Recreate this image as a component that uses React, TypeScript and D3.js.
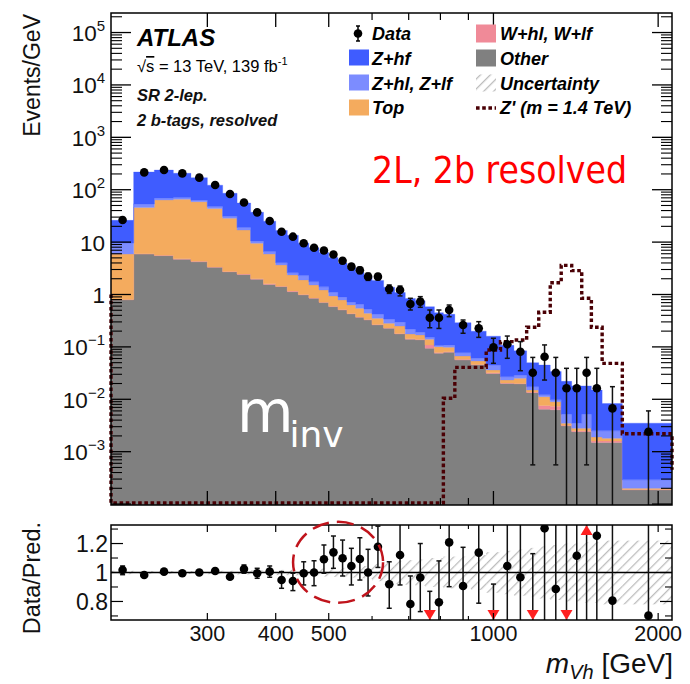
import React from "react";
import * as d3 from "d3";

// ---------- data ----------
const edges = [200, 220, 240, 260, 280, 300, 320, 340, 360, 380, 400, 420, 440, 460, 480, 500, 520, 540, 560, 580, 600,
  630, 660, 690, 720, 750, 780, 810, 850, 910, 970, 1030, 1090, 1150, 1210, 1270, 1330, 1390, 1450, 1510, 1580, 1720, 2120];

const other = [0.79, 5.9, 5.5, 4.7, 4.2, 3.3, 2.7, 2.4, 1.95, 1.56, 1.41, 1.13, 0.98, 0.846, 0.70, 0.585, 0.506, 0.425, 0.367, 0.326,
  0.262, 0.226, 0.176, 0.14, 0.136, 0.094, 0.0755, 0.079, 0.056, 0.045, 0.031, 0.020, 0.0196, 0.0134, 0.00645, 0.0063, 0.0031, 0.0024, 0.0024, 0.0015,
  0.0015, 0.000186];
const wjets = [0.01, 0.1, 0.1, 0.1, 0.1, 0.05, 0.05, 0.05, 0.05, 0.04, 0.03, 0.03, 0.02, 0.014, 0.012, 0.01, 0.009, 0.008, 0.007, 0.006,
  0.005, 0.004, 0.004, 0.003, 0.003, 0.015, 0.0025, 0.002, 0.002, 0.001, 0.001, 0.0005, 0.0004, 0.0003, 0.00115, 0.0011, 0.0001, 0.0001, 0.0001, 0.0001,
  0.0001, 0.000004];
const topq = [5.1, 40, 58, 61.2, 54.7, 40.65, 25.75, 14.55, 7.5, 4.3, 2.22, 1.2, 0.9, 0.66, 0.508, 0.341, 0.27, 0.197, 0.171, 0.106,
  0.084, 0.052, 0.07, 0.033, 0.03, 0.031, 0.023, 0.017, 0.0089, 0.008, 0.0043, 0.0029, 0.0052, 0.0013, 0.0036, 0.0016, 0.0003, 0.0003, 0.0003, 0.0003,
  0.0002, 0.00001];
const zhl = [3.7, 7.5, 5.4, 5, 4, 4, 2.5, 2, 1.0, 0.7, 0.39, 0.24, 0.4, 0.23, 0.18, 0.164, 0.115, 0.09, 0.105, 0.092,
  0.069, 0.058, 0.05, 0.044, 0.021, 0.012, 0.005, 0.011, 0.0105, 0.0066, 0.0087, 0.0036, 0.0038, 0.0024, 0.001, 0.0008, 0.0017, 0.0007, 0.0024, 0.0006,
  0.0007, 0.00009];
const zhf = [16.4, 164.5, 168, 135, 107, 74, 54.5, 36.7, 26.7, 18.5, 12.65, 10.9, 7.25, 6.05, 4.9, 4.0, 3.1, 2.53, 2.0, 1.66,
  1.44, 1.04, 0.79, 0.62, 0.57, 0.433, 0.344, 0.311, 0.2126, 0.139, 0.115, 0.08, 0.055, 0.0326, 0.0328, 0.0242, 0.0168, 0.0145, 0.0128, 0.0125,
  0.0058, 0.00321];

const dataVals = [26.4, 214, 238, 205, 170, 123, 83, 57, 37, 25.3, 15.8, 12.7, 9.5, 7.8, 6.9, 5.8, 4.4, 3.4, 2.9, 2.19,
  2.19, 1.27, 1.22, 0.66, 0.73, 0.36, 0.36, 0.506, 0.262, 0.226, 0.098, 0.112, 0.081, 0.032, 0.065, 0.032, 0.0162, 0.0162, 0.032, 0.0162,
  0.0067, 0.0024];
const dataHi = [27.6, 217, 241, 208, 173, 125.5, 85, 58.6, 38.3, 26.4, 16.7, 13.5, 10.2, 8.5, 7.6, 6.4, 4.9, 3.85, 3.33, 2.55,
  2.5, 1.52, 1.45, 0.846, 0.91, 0.506, 0.506, 0.63, 0.326, 0.303, 0.146, 0.161, 0.126, 0.063, 0.109, 0.063, 0.039, 0.039, 0.063, 0.039,
  0.0174, 0.006];
const dataLo = [25.2, 211, 235, 202, 167, 120.5, 81, 55.4, 35.7, 24.2, 14.9, 11.9, 8.8, 7.1, 6.2, 5.2, 3.9, 2.95, 2.5, 1.86,
  1.9, 1.05, 0.94, 0.506, 0.57, 0.232, 0.225, 0.377, 0.182, 0.152, 0.0486, 0.0605, 0.0351, 0.00056, 0.0233, 0.00056, 0, 0, 0.00056, 0,
  0, 0];

// Z' (m = 1.4 TeV) signal, events/GeV (0 = below the axis)
const signal = [0, 0, 0, 0, 0, 0, 0, 0, 0, 0, 0, 0, 0, 0, 0, 0, 0, 0, 0, 0, 0, 0, 0, 0, 0, 0, 0,
  0.0105, 0.0407, 0.0407, 0.0873, 0.126, 0.135, 0.237, 0.457, 1.68, 3.6, 2.85, 0.846, 0.237, 0.0484, 0.0022];
const signalStartLevel = 1;
const signalEndLevel = 0.00045;

// ratio panel
const ratio = [1.017, 0.983, 1.006, 0.995, 1.0, 1.01, 0.971, 1.024, 0.995, 1.006, 0.948, 0.941, 0.995, 1.0, 1.091, 1.139, 1.098, 1.045, 1.093, 1.0,
  1.178, 0.919, 1.121, 0.783, 0.965, 0.55, 0.794, 1.208, 0.907, 1.137, 0.55, 1.045, 0.967, 0.55, 1.305, 0.886, 0.55, 1.116, 1.5, 1.254,
  0.806, 0.702];
const ratioHi = [1.045, 0.995, 1.015, 1.005, 1.012, 1.022, 0.984, 1.052, 1.029, 1.045, 1.006, 0.995, 1.074, 1.081, 1.19, 1.252, 1.224, 1.167, 1.24, 1.16,
  1.32, 1.074, 1.4, 0.976, 1.2, 0.87, 1.08, 1.4, 1.174, 1.4, 0.92, 1.4, 1.4, 1.13, 1.4, 1.4, 1.4, 1.4, 1.5, 1.4,
  1.4, 1.4];
const ratioLo = [0.985, 0.971, 0.997, 0.985, 0.988, 0.998, 0.958, 0.995, 0.96, 0.967, 0.891, 0.875, 0.914, 0.909, 0.995, 1.029, 0.976, 0.914, 0.948, 0.838,
  1.035, 0.753, 0.914, 0.6, 0.73, 0.55, 0.6, 0.902, 0.6, 0.788, 0.55, 0.6, 0.6, 0.55, 0.6, 0.6, 0.55, 0.6, 0.6, 0.6,
  0.6, 0.6];
const uncert = [0.012, 0.01, 0.01, 0.01, 0.01, 0.012, 0.012, 0.014, 0.015, 0.016, 0.018, 0.02, 0.022, 0.025, 0.028, 0.03, 0.032, 0.035, 0.04, 0.045,
  0.06, 0.07, 0.08, 0.085, 0.09, 0.1, 0.1, 0.11, 0.11, 0.12, 0.14, 0.15, 0.16, 0.17, 0.18, 0.19, 0.2, 0.2, 0.21, 0.21,
  0.22, 0.22];

const xMajorTicks = [300, 400, 500, 1000, 2000];
const xMinorTicks = [600, 700, 800, 900];
const yDecades = [-3, -2, -1, 0, 1, 2, 3, 4, 5];
const ratioMajorTicks = [0.8, 1.0, 1.2];
const ratioMinorTicks = [0.7, 0.9, 1.1, 1.3];

const keys = ["other", "wjets", "top", "zhl", "zhf"];
const colors: Record<string, string> = {
  other: "#808080",
  wjets: "#F08A98",
  top: "#F4AB5E",
  zhl: "#7C8CFF",
  zhf: "#3F5CFF",
};

const FONT = '"Liberation Sans", Arial, Helvetica, sans-serif';

export default function App() {
  const W = 690, H = 684;
  const L = 111, R = 672, T = 13, B = 505, RT = 525, RB = 620;
  const yMin = 9.6e-5;
  const x = d3.scaleLog().domain([200, 2120]).range([L, R]);
  const y = d3.scaleLog().domain([yMin, 2.36e5]).range([B, T]);
  const yr = d3.scaleLinear().domain([0.672, 1.328]).range([RB, RT]);
  const nb = edges.length - 1;
  const centers = d3.range(nb).map((i) => (edges[i] + edges[i + 1]) / 2);

  const rows = d3.range(nb).map((i) => ({ other: other[i], wjets: wjets[i], top: topq[i], zhl: zhl[i], zhf: zhf[i] }));
  const series = d3.stack<any>().keys(keys)(rows as any);
  const clampY = (v: number) => y(Math.max(v, yMin));
  const area = d3
    .area<{ e: number; y0: number; y1: number }>()
    .x((d) => x(d.e))
    .y0((d) => clampY(d.y0))
    .y1((d) => clampY(d.y1));

  const layerPaths = series.map((s) => {
    const pts: { e: number; y0: number; y1: number }[] = [];
    for (let i = 0; i < nb; i++) {
      pts.push({ e: edges[i], y0: s[i][0], y1: s[i][1] });
      pts.push({ e: edges[i + 1], y0: s[i][0], y1: s[i][1] });
    }
    return { key: s.key, d: area(pts) as string };
  });

  // signal
  const floorVal = 1.05e-4;
  const sigPts: [number, number][] = [[x(edges[0]), y(signalStartLevel)]];
  for (let i = 0; i < nb; i++) {
    const v = Math.max(signal[i], floorVal);
    sigPts.push([x(edges[i]), y(v)]);
    sigPts.push([x(edges[i + 1]), y(v)]);
  }
  sigPts.push([x(edges[nb]), y(signalEndLevel)]);
  const sigPath = d3.line()(sigPts) as string;

  // y minor ticks
  const yMinor: number[] = [];
  for (let n = -5; n <= 5; n++) for (let k = 2; k <= 9; k++) {
    const v = k * Math.pow(10, n);
    if (v > yMin && v < 2.36e5) yMinor.push(v);
  }

  const supLabel = (n: number) => (n === 0 ? "1" : n === 1 ? "10" : null);

  const capW = 2.5;

  return (
    <svg width={W} height={H} style={{ position: "fixed", left: 0, top: 0, background: "#fff" }} fontFamily={FONT}>
      <defs>
        <clipPath id="mainClip">
          <rect x={L} y={T} width={R - L} height={B - T} />
        </clipPath>
        <clipPath id="sigClip">
          <rect x={L - 3} y={T} width={R - L + 6} height={B - T} />
        </clipPath>
        <clipPath id="ratioClip">
          <rect x={L} y={RT} width={R - L} height={RB - RT} />
        </clipPath>
        <pattern id="hatch" width="7" height="7" patternUnits="userSpaceOnUse" patternTransform="rotate(45)">
          <line x1="0" y1="0" x2="0" y2="7" stroke="#bdbdbd" strokeWidth="2.6" />
        </pattern>
      </defs>
      <rect x={0} y={0} width={W} height={H} fill="#fff" />

      {/* ---------- main panel ---------- */}
      <g clipPath="url(#mainClip)">
        {layerPaths.map((p) => (
          <path key={p.key} d={p.d} fill={colors[p.key]} stroke={colors[p.key]} strokeWidth={0.3} />
        ))}
      </g>
      <g clipPath="url(#sigClip)">
        <path d={sigPath} fill="none" stroke="#4a0005" strokeWidth={3.4} strokeDasharray="3.6 2.6" />
      </g>
      <g clipPath="url(#mainClip)">
        {centers.map((c, i) => {
          const cx = x(c);
          const yh = y(dataHi[i]);
          const lowIn = dataLo[i] > yMin;
          const yl = lowIn ? y(dataLo[i]) : B + 5;
          return (
            <g key={i}>
              <line x1={cx} x2={cx} y1={yh} y2={yl} stroke="#111" strokeWidth={1.5} />
              <line x1={cx - capW} x2={cx + capW} y1={yh} y2={yh} stroke="#111" strokeWidth={1.5} />
              {lowIn && <line x1={cx - capW} x2={cx + capW} y1={yl} y2={yl} stroke="#111" strokeWidth={1.5} />}
              <circle cx={cx} cy={y(dataVals[i])} r={4.3} fill="#000" />
            </g>
          );
        })}
      </g>

      {/* main frame and ticks */}
      <rect x={L} y={T} width={R - L} height={B - T} fill="none" stroke="#000" strokeWidth={1.5} />
      {yDecades.concat([-4]).map((n) => {
        const v = Math.pow(10, n);
        if (v < yMin) return null;
        const yy = y(v);
        return (
          <g key={"yd" + n}>
            <line x1={L} x2={L + 20} y1={yy} y2={yy} stroke="#000" strokeWidth={1.3} />
            <line x1={R} x2={R - 20} y1={yy} y2={yy} stroke="#000" strokeWidth={1.3} />
          </g>
        );
      })}
      {yMinor.map((v, i) => (
        <g key={"ym" + i}>
          <line x1={L} x2={L + 11} y1={y(v)} y2={y(v)} stroke="#000" strokeWidth={1.1} />
          <line x1={R} x2={R - 11} y1={y(v)} y2={y(v)} stroke="#000" strokeWidth={1.1} />
        </g>
      ))}
      {xMajorTicks.map((v) => (
        <g key={"xM" + v}>
          <line x1={x(v)} x2={x(v)} y1={T} y2={T + 14} stroke="#000" strokeWidth={1.3} />
          <line x1={x(v)} x2={x(v)} y1={B} y2={B - 14} stroke="#000" strokeWidth={1.3} />
        </g>
      ))}
      {xMinorTicks.map((v) => (
        <g key={"xm" + v}>
          <line x1={x(v)} x2={x(v)} y1={T} y2={T + 7} stroke="#000" strokeWidth={1.2} />
          <line x1={x(v)} x2={x(v)} y1={B} y2={B - 7} stroke="#000" strokeWidth={1.2} />
        </g>
      ))}

      {/* y tick labels */}
      {yDecades.map((n) => {
        const yy = y(Math.pow(10, n));
        const plain = supLabel(n);
        return plain ? (
          <text key={"yl" + n} x={105} y={yy + 8.5} textAnchor="end" fontSize={22.5} fill="#111">
            {plain}
          </text>
        ) : (
          <text key={"yl" + n} x={105} y={yy + 8.5} textAnchor="end" fontSize={22.5} fill="#111">
            10
            <tspan fontSize={15} dy={-10}>
              {n < 0 ? "\u2212" + Math.abs(n) : String(n)}
            </tspan>
          </text>
        );
      })}
      <text transform={`translate(40,14) rotate(-90)`} textAnchor="end" fontSize={23} fill="#111">
        Events/GeV
      </text>

      {/* labels */}
      <text x={137} y={46} fontSize={24} fontWeight="bold" fontStyle="italic" fill="#000">ATLAS</text>
      <text x={137} y={72} fontSize={16.5} fill="#000">
        <tspan>√</tspan>
        <tspan textDecoration="overline">s</tspan>
        <tspan> = 13 TeV, 139 fb</tspan>
        <tspan fontSize={11} dy={-7}>-1</tspan>
      </text>
      <text x={137} y={101} fontSize={16.5} fontStyle="italic" fontWeight="bold" fill="#111">SR 2-lep.</text>
      <text x={137} y={126} fontSize={16.5} fontStyle="italic" fontWeight="bold" fill="#111">2 b-tags, resolved</text>

      {/* legend */}
      <g fontSize={18} fontStyle="italic" fontWeight="bold" fill="#000">
        <line x1={358} x2={358} y1={26} y2={41} stroke="#000" strokeWidth={1.5} />
        <line x1={356} x2={360} y1={26} y2={26} stroke="#000" strokeWidth={1.5} />
        <line x1={356} x2={360} y1={41} y2={41} stroke="#000" strokeWidth={1.5} />
        <circle cx={358} cy={33.5} r={4.3} fill="#000" />
        <text x={372} y={39.5}>Data</text>
        <rect x={349} y={49.5} width={20} height={16} fill={colors.zhf} />
        <text x={372} y={64.5}>Z+hf</text>
        <rect x={349} y={74.5} width={20} height={16} fill={colors.zhl} />
        <text x={372} y={89.5}>Z+hl, Z+lf</text>
        <rect x={349} y={99.5} width={20} height={16} fill={colors.top} />
        <text x={372} y={114}>Top</text>
        <rect x={476} y={24.5} width={20} height={18} fill={colors.wjets} />
        <text x={500} y={39.5}>W+hl, W+lf</text>
        <rect x={476} y={49.5} width={20} height={17} fill={colors.other} />
        <text x={500} y={64.5}>Other</text>
        <rect x={476} y={74.5} width={20} height={17} fill="url(#hatch)" />
        <text x={500} y={89.5}>Uncertainty</text>
        <line x1={476} x2={496} y1={108} y2={108} stroke="#4a0005" strokeWidth={3.4} strokeDasharray="3.6 2.6" />
        <text x={500} y={114}>Z' (m = 1.4 TeV)</text>
      </g>

      <text x={372} y={182.5} fontFamily='"DejaVu Sans", Verdana, sans-serif' fontSize={38} fill="#ff0000"
        textLength={255} lengthAdjust="spacingAndGlyphs">2L, 2b resolved</text>
      <text x={237} y={431.7} fontFamily='"DejaVu Sans", Verdana, sans-serif' fontSize={58} fill="#fff">
        m<tspan fontSize={36} dx={-4} dy={15}>inv</tspan>
      </text>

      {/* ---------- ratio panel ---------- */}
      <g clipPath="url(#ratioClip)">
        {d3.range(nb).map((i) => (
          <rect key={"u" + i} x={x(edges[i])} y={yr(1 + uncert[i])} width={x(edges[i + 1]) - x(edges[i])}
            height={yr(1 - uncert[i]) - yr(1 + uncert[i])} fill="url(#hatch)" />
        ))}
        <line x1={L} x2={R} y1={yr(1)} y2={yr(1)} stroke="#000" strokeWidth={1.3} />
        {centers.map((c, i) => {
          const cx = x(c);
          const r = ratio[i];
          const inRange = r > 0.672 && r < 1.328;
          const hiIn = ratioHi[i] < 1.328;
          const loIn = ratioLo[i] > 0.672;
          return (
            <g key={"r" + i}>
              <line x1={cx} x2={cx} y1={yr(Math.min(ratioHi[i], 1.36))} y2={yr(Math.max(ratioLo[i], 0.64))} stroke="#111" strokeWidth={1.5} />
              {hiIn && <line x1={cx - capW} x2={cx + capW} y1={yr(ratioHi[i])} y2={yr(ratioHi[i])} stroke="#111" strokeWidth={1.5} />}
              {loIn && <line x1={cx - capW} x2={cx + capW} y1={yr(ratioLo[i])} y2={yr(ratioLo[i])} stroke="#111" strokeWidth={1.5} />}
              {inRange && <circle cx={cx} cy={yr(r)} r={4.3} fill="#000" />}
            </g>
          );
        })}
      </g>
      {centers.map((c, i) => {
        const cx = x(c);
        const r = ratio[i];
        if (r <= 0.672) {
          return (
            <g key={"a" + i}>
              <line x1={cx} x2={cx} y1={yr(0.74)} y2={RB - 8} stroke="#ff2020" strokeWidth={2} />
              <path d={`M${cx - 6},${RB - 10}L${cx + 6},${RB - 10}L${cx},${RB}Z`} fill="#ff2020" />
            </g>
          );
        }
        if (r >= 1.328) {
          return (
            <g key={"a" + i}>
              <line x1={cx} x2={cx} y1={yr(1.26)} y2={RT + 8} stroke="#ff2020" strokeWidth={2} />
              <path d={`M${cx - 6},${RT + 10}L${cx + 6},${RT + 10}L${cx},${RT}Z`} fill="#ff2020" />
            </g>
          );
        }
        return null;
      })}
      <rect x={L} y={RT} width={R - L} height={RB - RT} fill="none" stroke="#000" strokeWidth={1.5} />
      {ratioMajorTicks.map((v) => (
        <g key={"rM" + v}>
          <line x1={L} x2={L + 12} y1={yr(v)} y2={yr(v)} stroke="#000" strokeWidth={1.2} />
          <line x1={R} x2={R - 12} y1={yr(v)} y2={yr(v)} stroke="#000" strokeWidth={1.2} />
          <text x={108} y={yr(v) + 8.5} textAnchor="end" fontSize={23} fill="#111">
            {v === 1 ? "1" : v.toFixed(1)}
          </text>
        </g>
      ))}
      {ratioMinorTicks.map((v) => (
        <g key={"rm" + v}>
          <line x1={L} x2={L + 7} y1={yr(v)} y2={yr(v)} stroke="#000" strokeWidth={1.1} />
          <line x1={R} x2={R - 7} y1={yr(v)} y2={yr(v)} stroke="#000" strokeWidth={1.1} />
        </g>
      ))}
      {xMajorTicks.map((v) => (
        <g key={"rxM" + v}>
          <line x1={x(v)} x2={x(v)} y1={RT} y2={RT + 7} stroke="#000" strokeWidth={1.2} />
          <line x1={x(v)} x2={x(v)} y1={RB} y2={RB - 7} stroke="#000" strokeWidth={1.2} />
          <text x={x(v)} y={641} textAnchor="middle" fontSize={21.5} fill="#111">{v}</text>
        </g>
      ))}
      {xMinorTicks.map((v) => (
        <g key={"rxm" + v}>
          <line x1={x(v)} x2={x(v)} y1={RT} y2={RT + 4} stroke="#000" strokeWidth={1.1} />
          <line x1={x(v)} x2={x(v)} y1={RB} y2={RB - 4} stroke="#000" strokeWidth={1.1} />
        </g>
      ))}
      <text transform={`translate(40,522) rotate(-90)`} textAnchor="end" fontSize={23.5} fill="#111">
        Data/Pred.
      </text>
      <text x={673} y={673} textAnchor="end" fontSize={28} fill="#111">
        <tspan fontStyle="italic">m</tspan>
        <tspan fontStyle="italic" fontSize={20} dy={6}>Vh</tspan>
        <tspan dy={-6}> [GeV]</tspan>
      </text>

      {/* annotation ellipse */}
      <ellipse cx={x(520)} cy={yr(1.07)} rx={45} ry={40.5} fill="none" stroke="#c0141c" strokeWidth={2.5} strokeDasharray="17 8" />
    </svg>
  );
}
